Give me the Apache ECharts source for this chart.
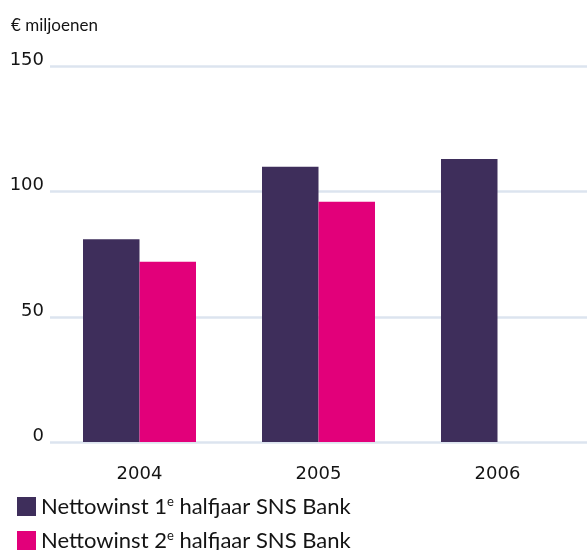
<!DOCTYPE html>
<html>
<head>
<meta charset="utf-8">
<script src="https://cdn.jsdelivr.net/npm/echarts@6/dist/echarts.min.js"></script>
<style>
  html, body { margin: 0; padding: 0; background: #ffffff; }
  #chart { width: 587px; height: 550px; }
</style>
</head>
<body>
<div id="chart"></div>
<script>
// Half-year net profit of SNS Bank, in millions of euros
const years = ['2004', '2005', '2006'];
const firstHalf = [81, 110, 113];
const secondHalf = [72, 96, null];
const yTicks = { min: 0, max: 150, interval: 50 };
const unitLabel = '€ miljoenen';
const seriesNames = ['Nettowinst 1e halfjaar SNS Bank', 'Nettowinst 2e halfjaar SNS Bank'];

const purple = '#3e2e5b';
const magenta = '#e2007a';
const gridColor = '#dce4ef';
const textColor = '#141414';

const chart = echarts.init(document.getElementById('chart'), null, { renderer: 'canvas' });

const legendText = {
  color: textColor,
  fontFamily: 'Lato',
  fontSize: 22,
  rich: {
    a: { fontFamily: 'Lato', fontSize: 22, color: textColor },
    sup: { fontFamily: 'Lato', fontSize: 13, color: textColor, verticalAlign: 'top', padding: [0, 0, 10, 0] }
  }
};

// render the ordinal "e" as a superscript
function legendFormatter(name) {
  const m = name.match(/^(Nettowinst \d)e( .*)$/);
  return m ? '{a|' + m[1] + '}{sup|e}{a|' + m[2] + '}' : name;
}

function legendRow(name, top) {
  return {
    left: 12,
    top: top,
    itemWidth: 19,
    itemHeight: 19,
    itemGap: 0,
    icon: 'rect',
    selectedMode: false,
    formatter: legendFormatter,
    textStyle: legendText,
    data: [name]
  };
}

chart.setOption({
  animation: false,
  backgroundColor: '#ffffff',
  title: {
    text: unitLabel,
    left: 6,
    top: 12,
    textStyle: { fontFamily: 'Lato', fontSize: 17, fontWeight: 'normal', color: textColor }
  },
  legend: [legendRow(seriesNames[0], 490), legendRow(seriesNames[1], 524)],
  grid: { left: 50, right: 0, top: 66.5, bottom: 108, containLabel: false },
  xAxis: {
    type: 'category',
    data: years,
    axisLine: { show: false },
    axisTick: { show: false },
    axisLabel: { margin: 23, color: textColor, fontFamily: 'DejaVu Sans', fontSize: 18 }
  },
  yAxis: {
    type: 'value',
    min: yTicks.min,
    max: yTicks.max,
    interval: yTicks.interval,
    axisLine: { show: false },
    axisTick: { show: false },
    axisLabel: {
      margin: 6,
      align: 'right',
      verticalAlign: 'bottom',
      lineHeight: 12,
      color: textColor,
      fontFamily: 'DejaVu Sans',
      fontSize: 18
    },
    splitLine: { show: true, lineStyle: { color: gridColor, width: 2.5 } }
  },
  series: [
    {
      name: seriesNames[0],
      type: 'bar',
      data: firstHalf,
      barWidth: 56.5,
      barGap: '0%',
      itemStyle: { color: purple },
      z: 3
    },
    {
      name: seriesNames[1],
      type: 'bar',
      data: secondHalf,
      barWidth: 56.5,
      barGap: '0%',
      itemStyle: { color: magenta },
      z: 3
    }
  ]
});
</script>
</body>
</html>
